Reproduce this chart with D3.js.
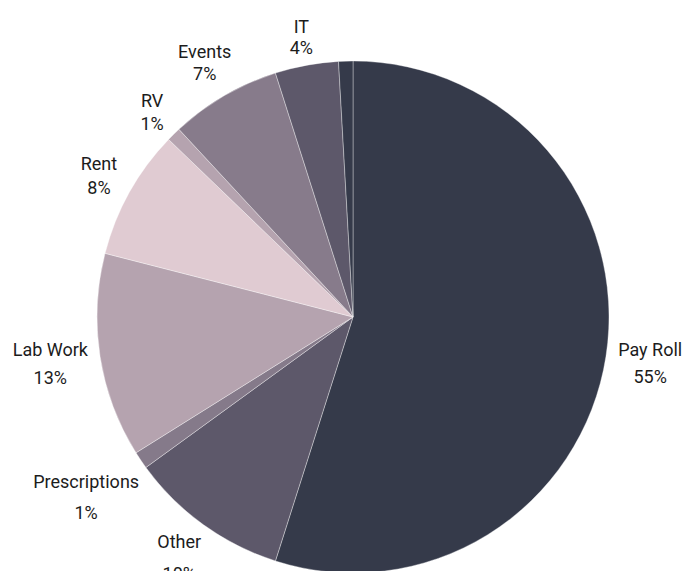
<!DOCTYPE html>
<html>
<head>
<meta charset="utf-8">
<script src="https://cdn.jsdelivr.net/npm/d3@7"></script>
<style>
  html, body { margin: 0; padding: 0; background: #fff; }
  svg { display: block; }
</style>
</head>
<body>
<svg id="chart" width="685" height="571"></svg>
<script>
// Data (clockwise from 12 o'clock)
const categories = ["Pay Roll", "Other", "Prescriptions", "Lab Work", "Rent", "RV", "Events", "IT", ""];
const values = [54.9, 10.1, 1.1, 12.9, 8.2, 0.9, 7.0, 4.0, 0.9];
const colors = ["#353a4a", "#5d586a", "#857a8a", "#b5a3af", "#e0cbd2", "#b5a3af", "#877b8b", "#5d586a", "#353a4a"];

const width = 685, height = 571;
const cx = 353, cy = 317, radius = 256;
const fontSize = 18, capH = fontSize * 0.711, offset = 10;

const svg = d3.select("#chart");
const total = d3.sum(values);
const data = categories.map((c, i) => ({ name: c, value: values[i], color: colors[i] }));

const pie = d3.pie().value(d => d.value).sort(null);
const arc = d3.arc().innerRadius(0).outerRadius(radius);
const arcs = pie(data);

const g = svg.append("g").attr("transform", `translate(${cx},${cy})`);
g.selectAll("path.slice")
  .data(arcs)
  .join("path")
  .attr("class", "slice")
  .attr("d", arc)
  .attr("fill", d => d.data.color)
  .attr("stroke", "rgba(255,255,255,0.45)")
  .attr("stroke-width", 0.8);

const fmt = v => Math.round(v / total * 100) + "%";

const labels = g.selectAll("g.label")
  .data(arcs.filter(d => d.data.name !== ""))
  .join("g")
  .attr("class", "label")
  .style("font-family", "Roboto, 'Noto Sans', sans-serif")
  .style("font-size", fontSize + "px")
  .attr("fill", "#1c1c1c");

labels.each(function(d) {
  const sel = d3.select(this);
  const t1 = sel.append("text").attr("text-anchor", "middle").text(d.data.name);
  const t2 = sel.append("text").attr("text-anchor", "middle").text(fmt(d.data.value));
  const w = Math.max(t1.node().getComputedTextLength(), t2.node().getComputedTextLength());
  const a = (d.startAngle + d.endAngle) / 2;
  const ux = Math.sin(a), uy = -Math.cos(a);
  const spacing = 27 + 6 * uy;
  const hw = w / 2, hh = (spacing + capH) / 2;
  const dist = radius + offset + hw * Math.abs(ux) + hh * Math.abs(uy);
  const bx = ux * dist, by = uy * dist;
  t1.attr("x", bx).attr("y", by - spacing / 2 + capH / 2);
  t2.attr("x", bx).attr("y", by + spacing / 2 + capH / 2);
});
</script>
</body>
</html>
